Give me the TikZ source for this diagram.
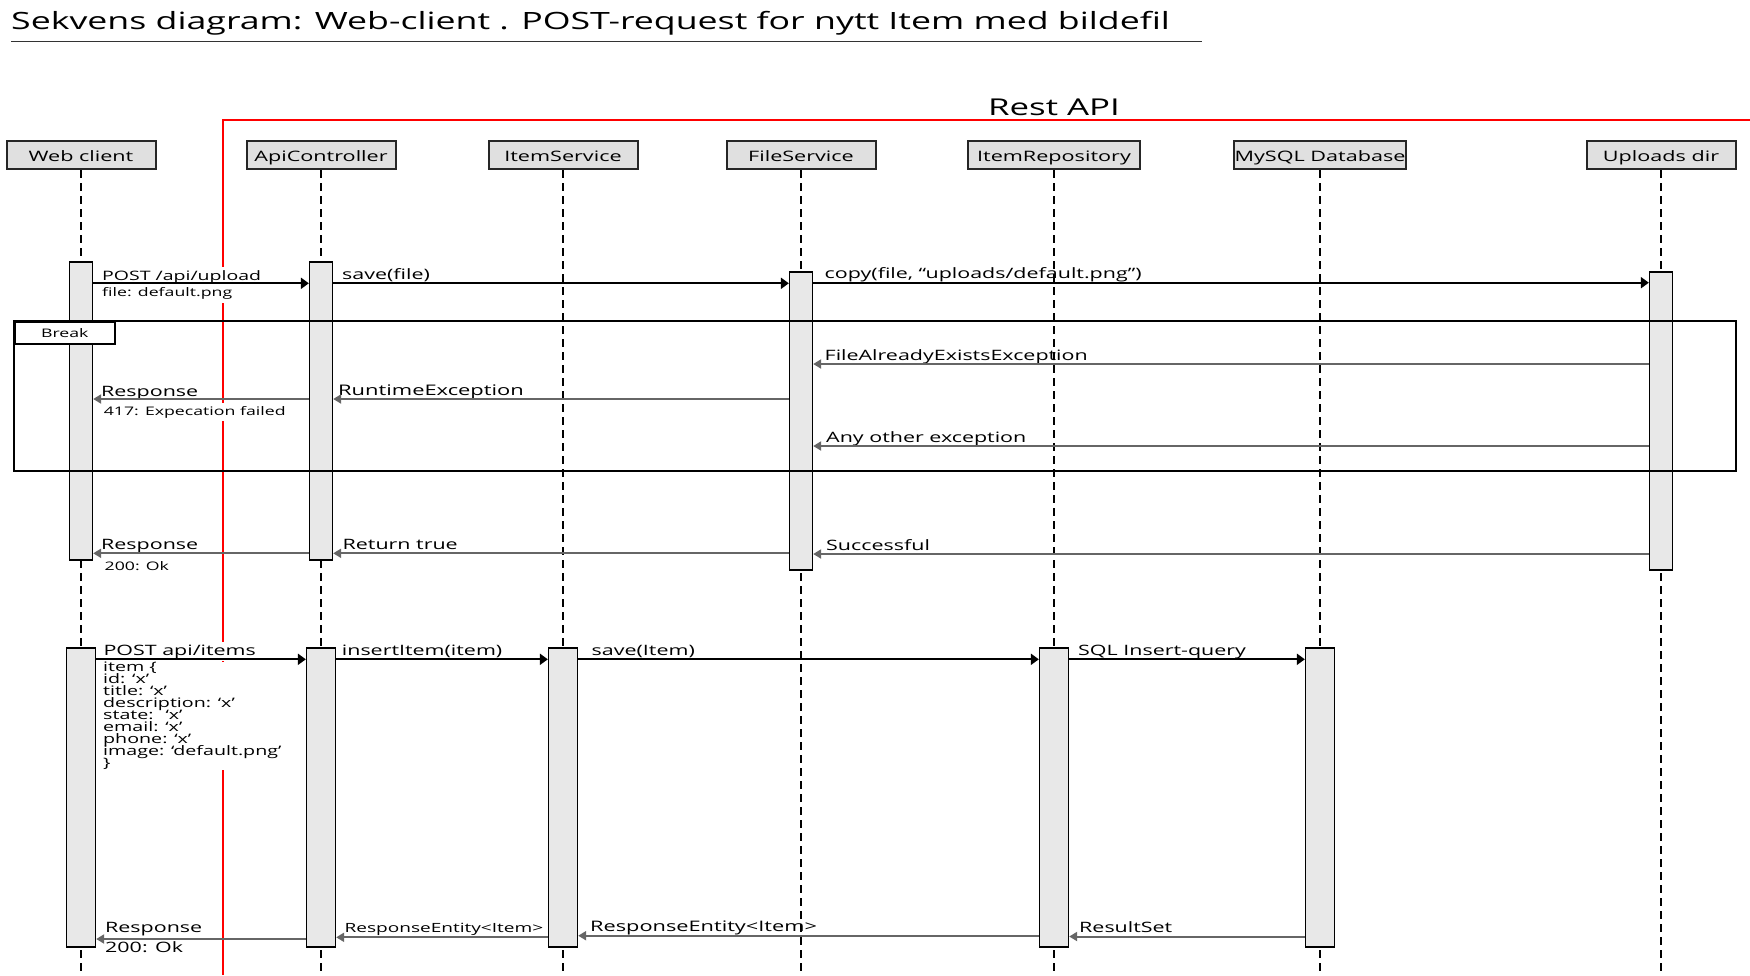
\documentclass[tikz,border=0pt]{standalone}
\usepackage{fontspec}
\setmainfont{Open Sans}[FakeStretch=1.5]
\usetikzlibrary{arrows.meta}
\newcommand\tightlines{\lineskiplimit=-20pt\relax}

\begin{document}
\begin{tikzpicture}[x=1pt, y=-1pt,
    head/.style={draw=black!85, line width=2pt, fill=black!12, minimum width=149pt, minimum height=28pt, inner sep=0pt, text height=13.5pt, text depth=0pt, font=\fontsize{14.4}{16}\selectfont},
    life/.style={line width=2pt, dash pattern=on 8pt off 5pt},
    bar/.style={draw, line width=1.3pt, fill=black!9, inner sep=0pt},
    call/.style={line width=2pt, -{Triangle[length=8pt,width=11pt]}},
    back/.style={line width=2pt, draw=black!60, -{Triangle[length=8pt,width=9pt]}},
    msg/.style={anchor=base west, inner sep=0pt, font=\fontsize{14.3}{16}\selectfont},
    note/.style={anchor=base west, inner sep=0pt, font=\fontsize{11.8}{13}\selectfont},
    mask/.style={fill=white, inner ysep=3pt}]
    \useasboundingbox (0,0) rectangle (1750,975);

    \node[anchor=base west, inner sep=0pt, font=\fontsize{23.8}{26}\selectfont] (title) at (11,29.3) {Sekvens diagram: Web-client . POST-request for nytt Item med bildefil};
    \draw[line width=1.3pt, black!80] (11,41.5) -- (1202,41.5);

    \node[anchor=base, inner sep=0pt, font=\fontsize{23.2}{25}\selectfont] (rest) at (1054,115) {Rest API};
    \draw[red, line width=2pt] (223,975) -- (223,120) -- (1750,120);

    \node[head] (web) at (81,155) {Web client};
    \node[head] (api) at (321,155) {ApiController};
    \node[head] (itemsvc) at (563,155) {ItemService};
    \node[head] (filesvc) at (801,155) {FileService};
    \node[head, minimum width=172pt] (repo) at (1054,155) {ItemRepository};
    \node[head, minimum width=172pt] (mysql) at (1320,155) {MySQL Database};
    \node[head] (uploads) at (1661,155) {Uploads dir};

    \foreach \n in {web,api,itemsvc,filesvc,repo,mysql,uploads}
        \draw[life] (\n.south) -- (\n.south |- 0,975);

    \node[bar, minimum width=23pt, minimum height=298pt] (webA) at (web |- 0,411) {};
    \node[bar, minimum width=23pt, minimum height=298pt] (apiA) at (api |- 0,411) {};
    \node[bar, minimum width=23pt, minimum height=298pt] (fileA) at (filesvc |- 0,421) {};
    \node[bar, minimum width=23pt, minimum height=298pt] (upA) at (uploads |- 0,421) {};

    \draw[line width=2pt] (14,321) rectangle (1736,471);
    \node[draw, line width=1.5pt, fill=white, minimum width=100pt, minimum height=22pt, anchor=north west, inner sep=0pt, font=\fontsize{11.8}{13}\selectfont] (brk) at (14,321) {Break};

    \node[msg, mask, font=\fontsize{13}{15}\selectfont] (m1) at (102,280) {POST /api/upload};
    \node[note, mask] (m1b) at (102,296.7) {file: default.png};
    \draw[call] (webA.east |- 0,283.3) -- (apiA.west |- 0,283.3);
    \node[msg] (m2) at (342,279) {save(file)};
    \draw[call] (apiA.east |- 0,283.3) -- (fileA.west |- 0,283.3);
    \node[msg] (m3) at (824.5,278) {copy(file, “uploads/default.png”)};
    \draw[call] (fileA.east |- 0,282.7) -- (upA.west |- 0,282.7);

    \node[msg] (r1) at (824.5,360.7) {FileAlreadyExistsException};
    \draw[back] (upA.west |- 0,364) -- (fileA.east |- 0,364);
    \node[msg, font=\fontsize{14.6}{16}\selectfont] (r2) at (338,395.7) {RuntimeException};
    \draw[back] (fileA.west |- 0,399) -- (apiA.east |- 0,399);
    \node[msg, mask] (r3) at (101,396) {Response};
    \node[note, mask] (r3b) at (103.6,415) {417: Expecation failed};
    \draw[back] (apiA.west |- 0,399) -- (webA.east |- 0,399);
    \node[msg] (r4) at (826,442.7) {Any other exception};
    \draw[back] (upA.west |- 0,446) -- (fileA.east |- 0,446);

    \node[msg] (r5) at (826,550) {Successful};
    \draw[back] (upA.west |- 0,554) -- (fileA.east |- 0,554);
    \node[msg] (r6) at (342.5,549) {Return true};
    \draw[back] (fileA.west |- 0,553.3) -- (apiA.east |- 0,553.3);
    \node[msg] (r7) at (101,549) {Response};
    \node[note] (r7b) at (104.5,570) {200: Ok};
    \draw[back] (apiA.west |- 0,553.3) -- (webA.east |- 0,553.3);

    \node[bar, minimum width=29pt, minimum height=299pt] (webB) at (web |- 0,797.5) {};
    \node[bar, minimum width=29pt, minimum height=299pt] (apiB) at (api |- 0,797.5) {};
    \node[bar, minimum width=29pt, minimum height=299pt] (itemB) at (itemsvc |- 0,797.5) {};
    \node[bar, minimum width=29pt, minimum height=299pt] (repoB) at (repo |- 0,797.5) {};
    \node[bar, minimum width=29pt, minimum height=299pt] (dbB) at (mysql |- 0,797.5) {};

    \node[msg, mask] (m4) at (103.3,655) {POST api/items};
    \node[anchor=north west, inner sep=0pt, fill=white, align=left, font={\fontsize{13.1}{12}\selectfont\tightlines}] (item) at (103,662) {item \{\\id: ‘x’\\title: ‘x’\\description: ‘x’\\state: \ ‘x’\\email: ‘x’\\phone: ‘x’\\image: ‘default.png’\\\}};
    \draw[call] (webB.east |- 0,659.3) -- (apiB.west |- 0,659.3);
    \node[msg] (m5) at (341.7,655) {insertItem(item)};
    \draw[call] (apiB.east |- 0,659.3) -- (itemB.west |- 0,659.3);
    \node[msg] (m6) at (591.5,655) {save(Item)};
    \draw[call] (itemB.east |- 0,659.3) -- (repoB.west |- 0,659.3);
    \node[msg] (m7) at (1078,655) {SQL Insert-query};
    \draw[call] (repoB.east |- 0,659.3) -- (dbB.west |- 0,659.3);

    \node[msg] (r8) at (1079,932) {ResultSet};
    \draw[back] (dbB.west |- 0,936.5) -- (repoB.east |- 0,936.5);
    \node[msg, font=\fontsize{14.5}{16}\selectfont] (r9) at (590,931) {ResponseEntity<Item>};
    \draw[back] (repoB.west |- 0,935.7) -- (itemB.east |- 0,935.7);
    \node[msg, font=\fontsize{12.7}{14}\selectfont] (r10) at (344.4,932.3) {ResponseEntity<Item>};
    \draw[back] (itemB.west |- 0,937.3) -- (apiB.east |- 0,937.3);
    \node[msg] (r11) at (105,932) {Response};
    \node[msg] (r11b) at (105,952) {200: Ok};
    \draw[back] (apiB.west |- 0,939) -- (webB.east |- 0,939);
\end{tikzpicture}
\end{document}
